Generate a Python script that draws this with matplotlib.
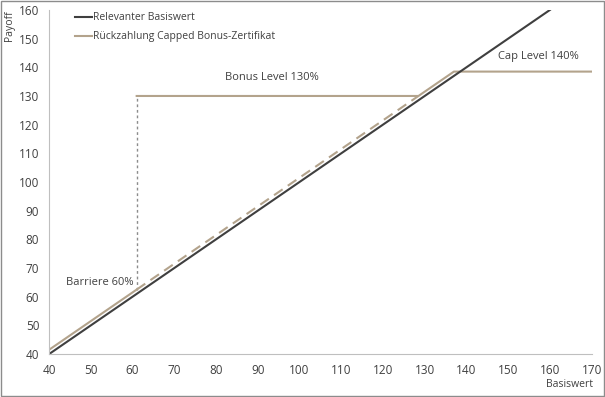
import numpy as np
import matplotlib
matplotlib.use('Agg')
from matplotlib import pyplot as plt
from matplotlib.patches import Rectangle

plt.rcParams['font.family'] = ['Open Sans', 'DejaVu Sans']

# data
basis_x = [40, 160]
basis_y = [40, 160]
cert_low_x = [40, 61]
cert_low_y = [41.5, 62.5]
cert_dash_x = [61, 128.5]
cert_dash_y = [62.5, 130]
bonus_x = [61, 128.5, 137, 170]
bonus_y = [130, 130, 138.5, 138.5]
barrier_x = [61, 61]
barrier_y = [62.5, 130]

dark = '#3f3f3f'
tan = '#b3a38c'
txt = '#404040'

fig = plt.figure(figsize=(6.05, 3.97), dpi=100)
ax = fig.add_axes([0.081, 0.108, 0.897, 0.867])

ax.plot(barrier_x, barrier_y, color='#8c8c8c', lw=1, ls=(0, (2, 2)))
ax.plot(cert_dash_x, cert_dash_y, color=tan, lw=1.5, ls=(0, (5, 3)))
ax.plot(cert_low_x, cert_low_y, color=tan, lw=1.5)
ax.plot(bonus_x, bonus_y, color=tan, lw=1.5, label='Rückzahlung Capped Bonus-Zertifikat')
ax.plot(basis_x, basis_y, color=dark, lw=1.5, label='Relevanter Basiswert')

ax.set_xlim(40, 170)
ax.set_ylim(40, 160)
ax.set_xticks(range(40, 171, 10))
ax.set_yticks(range(40, 161, 10))
ax.tick_params(length=0, labelsize=8.5, colors=txt, pad=7)
for s in ['top', 'right']:
    ax.spines[s].set_visible(False)
for s in ['left', 'bottom']:
    ax.spines[s].set_color('#bfbfbf')

h, l = ax.get_legend_handles_labels()
ax.legend(h[::-1], l[::-1], loc='upper left', bbox_to_anchor=(0.03, 1.02), frameon=False,
          fontsize=7.5, handlelength=1.7, handletextpad=0.05, labelspacing=0.75,
          labelcolor=txt)

ax.text(93.4, 136.3, 'Bonus Level 130%', fontsize=8, color=txt, ha='center', va='center')
ax.text(157.2, 143.6, 'Cap Level 140%', fontsize=8, color=txt, ha='center', va='center')
ax.text(52.2, 64.8, 'Barriere 60%', fontsize=8, color=txt, ha='center', va='center')

fig.text(0.015, 0.975, 'Payoff', rotation=90, fontsize=7.5, color=txt, ha='center', va='top')
fig.text(0.98, 0.018, 'Basiswert', fontsize=7.5, color=txt, ha='right', va='bottom')

fig.patches.append(Rectangle((0.001, 0.002), 0.997, 0.995, transform=fig.transFigure,
                             fill=False, edgecolor='#8c8c8c', lw=1))

fig.savefig('out.png', dpi=100)
